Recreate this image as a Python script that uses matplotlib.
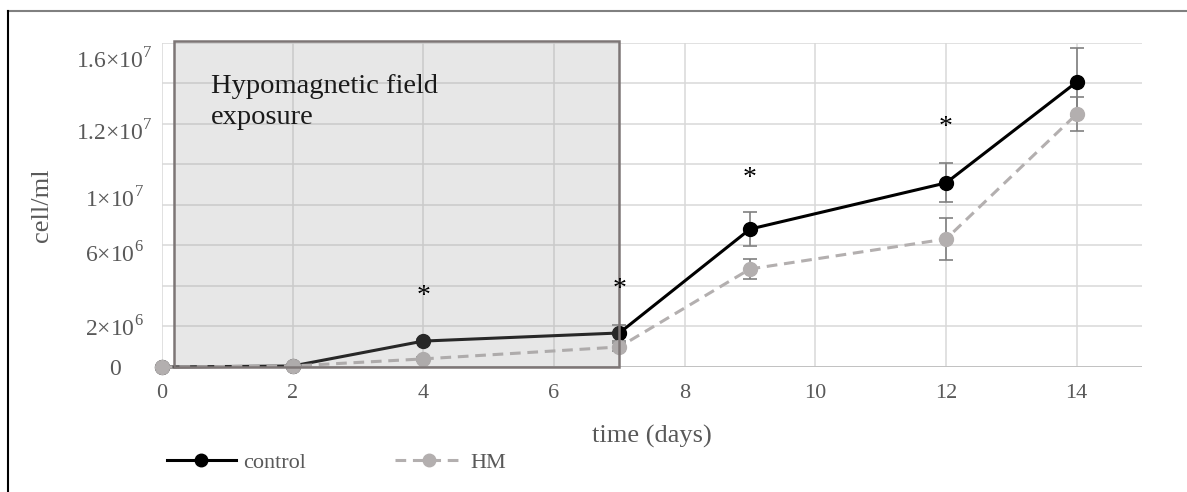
import matplotlib.pyplot as plt
from matplotlib.patches import Rectangle
from matplotlib.lines import Line2D

plt.rcParams['font.family'] = ['Liberation Serif', 'DejaVu Serif']
plt.rcParams['mathtext.fontset'] = 'custom'
plt.rcParams['mathtext.rm'] = 'Liberation Serif'

# data
days = [0, 2, 4, 7, 9, 12, 14]
control = [0.0, 0.05e6, 1.28e6, 1.68e6, 6.81e6, 9.09e6, 14.07e6]
control_err = [0.0, 0.03e6, 0.1e6, 0.4e6, 0.84e6, 0.96e6, 1.68e6]
hm = [0.0, 0.05e6, 0.4e6, 0.99e6, 4.84e6, 6.32e6, 12.49e6]
hm_err = [0.0, 0.02e6, 0.08e6, 0.2e6, 0.47e6, 1.04e6, 0.86e6]

star_days = [4, 7, 9, 12]
star_y = [3.46e6, 3.85e6, 9.33e6, 11.85e6]

# exposure window (days)
exp_start, exp_end = 0.18, 7.0

ytick_pos = [0, 2.02e6, 5.68e6, 8.4e6, 11.7e6, 15.26e6]
ytick_lab = ['0', r'$2{\times}10^6$', r'$6{\times}10^6$', r'$1{\times}10^7$',
             r'$1.2{\times}10^7$', r'$1.6{\times}10^7$']

grey_txt = '#595959'
hm_col = '#b3afaf'

fig = plt.figure(figsize=(11.87, 4.92), dpi=100)
ax = fig.add_axes([0.13648, 0.25407, 0.82561, 0.65854])

ax.set_xlim(0, 15)
ax.set_ylim(0, 1.6e7)

# grid
for gx in range(0, 15, 2):
    ax.axvline(gx, color='#d9d9d9', lw=1.1, zorder=0)
for gy in range(0, 17, 2):
    ax.axhline(gy * 1e6, color='#d9d9d9', lw=1.1, zorder=0)
ax.axhline(0, color='#bfbfbf', lw=1.3, zorder=1)

for s in ax.spines.values():
    s.set_visible(False)

ax.errorbar(days, control, yerr=control_err, fmt='none', ecolor='#808080',
            elinewidth=1.2, capsize=5, capthick=1.2, zorder=2)
ax.errorbar(days, hm, yerr=hm_err, fmt='none', ecolor='#808080',
            elinewidth=1.2, capsize=5, capthick=1.2, zorder=2)
ax.plot(days, control, color='black', lw=2.2, marker='o', markersize=10,
        label='control', zorder=3, clip_on=False)
ax.plot(days, hm, color=hm_col, lw=2.2, ls=(0, (3.5, 2.2)), marker='o',
        markersize=10, label='HM', zorder=4, clip_on=False)

for d, y in zip(star_days, star_y):
    ax.text(d, y, '*', ha='center', va='center', fontsize=20, color='black', zorder=6)

# shaded exposure box drawn over the lines
ax.add_patch(Rectangle((exp_start, 0), exp_end - exp_start, 1.61e7,
                       facecolor='#a0a0a0', alpha=0.25, edgecolor='none',
                       zorder=5, clip_on=False))
ax.add_patch(Rectangle((exp_start, 0), exp_end - exp_start, 1.61e7,
                       facecolor='none', edgecolor='#7d7676', lw=1.8,
                       zorder=5, clip_on=False))
ax.text(0.75, 1.31e7, 'Hypomagnetic field\nexposure', fontsize=20.5,
        color='#1a1a1a', ha='left', va='center', linespacing=1.3, zorder=6)

ax.set_xticks(range(0, 15, 2))
ax.set_yticks(ytick_pos)
ax.set_yticklabels(ytick_lab)
for lab in ax.get_yticklabels():
    lab.set_ha('center')
ax.tick_params(axis='y', length=0, pad=34, labelsize=17, labelcolor=grey_txt)
ax.tick_params(axis='x', length=0, pad=12, labelsize=16, labelcolor=grey_txt)

ax.set_xlabel('time (days)', fontsize=19, color=grey_txt)
ax.xaxis.set_label_coords(0.5, -0.213)
ax.xaxis.label.set_va('center')
ax.set_ylabel('cell/ml', fontsize=19, color=grey_txt)
ax.yaxis.set_label_coords(-0.1224, 0.5)
ax.yaxis.label.set_va('center')

fig.legend(loc='center left', bbox_to_anchor=(167 / 1187, 0.059), ncol=2,
           frameon=False, fontsize=16, handlelength=3.1, handletextpad=0.32,
           columnspacing=4.0, borderpad=0, borderaxespad=0, labelcolor=grey_txt,
           markerscale=0.9)

# outer frame lines of the original figure
fig.add_artist(Line2D([8 / 1187, 1], [1 - 11 / 492, 1 - 11 / 492],
                      color='#808080', lw=1.5))
fig.add_artist(Line2D([8 / 1187, 8 / 1187], [0, 1 - 11 / 492],
                      color='black', lw=1.5))

fig.savefig('out.png', dpi=100)
